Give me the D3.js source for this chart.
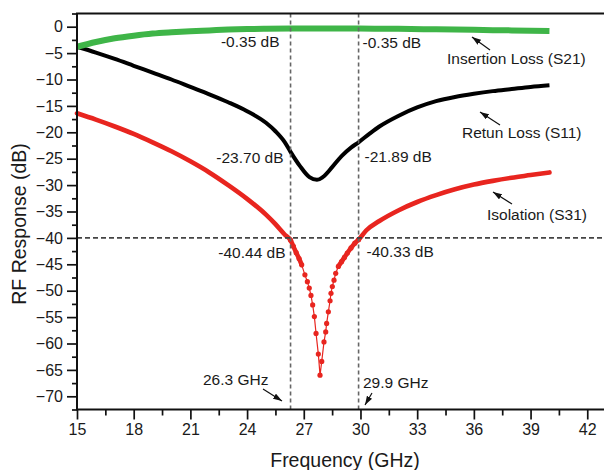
<!DOCTYPE html>
<html>
  <head>
    <meta charset="utf-8">
    <title>RF Response</title>
    <style>
      body { margin: 0; background: #fff; }
      text { font-family: "Liberation Sans", Arial, sans-serif; fill: #1a1a1a; }
    </style>
  </head>
  <body>
    <div id="chart"></div>
  </body>
  <script src="https://d3js.org/d3.v7.min.js"></script>
  <script>

    // tick labels
    let xTicks = [15, 18, 21, 24, 27, 30, 33, 36, 39, 42];
    let yTicks = [0, -5, -10, -15, -20, -25, -30, -35, -40, -45, -50, -55, -60, -65, -70];

    // Insertion loss (S21)
    let s21Freq = [15, 16, 17, 18, 19, 20, 21, 22, 23, 24, 25, 26.3, 28, 29.9, 32, 34, 36, 38, 40];
    let s21Db = [-3.8, -2.9, -2.2, -1.7, -1.3, -1.05, -0.85, -0.7, -0.55, -0.45, -0.4, -0.35, -0.33, -0.35, -0.4, -0.5, -0.6, -0.7, -0.8];

    // Return loss (S11)
    let s11Freq = [15, 16, 17, 18, 19, 20, 21, 22, 23, 24, 25, 25.5, 26, 26.3, 26.8, 27.3, 27.7, 28.0, 28.5, 29.0, 29.5, 29.9, 30.5, 31, 32, 33, 34, 35, 36, 37, 38, 39, 40];
    let s11Db = [-3.8, -4.9, -6.1, -7.4, -8.7, -10.0, -11.4, -12.8, -14.3, -16.0, -18.2, -19.8, -21.9, -23.7, -26.4, -28.5, -29.0, -28.5, -26.6, -24.5, -22.9, -21.89, -20.2, -18.9, -16.9, -15.3, -14.1, -13.3, -12.7, -12.2, -11.8, -11.4, -11.1];

    // Isolation (S31)
    let s31Freq = [15, 16, 17, 18, 19, 20, 21, 22, 23, 24, 25, 25.5, 26, 26.3, 26.45, 26.6, 26.75, 26.89, 27.06, 27.19, 27.29, 27.38, 27.47, 27.56, 27.65, 27.77, 27.86,
      27.95, 28.07, 28.16, 28.21, 28.30, 28.39, 28.44, 28.51, 28.60, 28.69, 28.83, 29.0, 29.15, 29.3, 29.5, 29.7, 29.9, 30.3, 31, 32, 33, 34, 35, 36, 37, 38, 39, 40];
    let s31Db = [-16.4, -17.6, -18.9, -20.3, -21.9, -23.6, -25.5, -27.6, -30.0, -32.6, -35.6, -37.4, -39.4, -40.44, -41.6, -42.8, -43.9, -45.1, -47.0, -48.3, -49.5, -50.9, -52.7, -54.9, -58.1, -62.0, -66.0,
      -63.4, -59.7, -57.8, -56.2, -54.0, -51.9, -50.5, -49.2, -48.0, -46.7, -45.4, -44.5, -43.7, -42.9, -41.9, -41.0, -40.33, -38.6, -36.8, -34.8, -33.2, -31.9, -30.8, -29.9, -29.2, -28.6, -28.1, -27.6];

    // marker lines and read-outs
    let markerFreqs = [26.3, 29.9];
    let s21At = [-0.35, -0.35];
    let s11At = [-23.70, -21.89];
    let s31At = [-40.44, -40.33];
    let isoLevel = -40;

    let W = 604, H = 470;
    let pLeft = 77, pTop = 13.5, pRight = 615.6, pBottom = 409.5;

    let xScale = d3.scaleLinear().domain([15, 43.5]).range([pLeft, pRight]);
    let yScale = d3.scaleLinear().domain([-72.5, 2.5]).range([pBottom, pTop]);

    let svg = d3.select("#chart").append("svg")
      .attr("width", W)
      .attr("height", H);

    svg.append("defs").append("marker")
      .attr("id", "arrow")
      .attr("markerUnits", "userSpaceOnUse")
      .attr("markerWidth", 9).attr("markerHeight", 6)
      .attr("refX", 9).attr("refY", 3)
      .attr("orient", "auto")
      .append("path")
      .attr("d", "M0,0 L9,3 L0,6 Z")
      .attr("fill", "#111");

    function pts(fs, ds) {
      return fs.map(function(f, i) { return [f, ds[i]]; });
    }

    let smooth = d3.line()
      .x(function(d) { return xScale(d[0]); })
      .y(function(d) { return yScale(d[1]); })
      .curve(d3.curveMonotoneX);
    let straight = d3.line()
      .x(function(d) { return xScale(d[0]); })
      .y(function(d) { return yScale(d[1]); });

    let plot = svg.append("g");

    // S31: thick on the flanks, dots + thin line in the notch
    let s31 = pts(s31Freq, s31Db);
    let notchLo = 26.89, notchHi = 28.83;
    plot.append("path")
      .attr("d", smooth(s31.filter(function(d) { return d[0] <= notchLo; })))
      .attr("fill", "none").attr("stroke", "#e8251f").attr("stroke-width", 4.6)
      .attr("stroke-linecap", "round");
    plot.append("path")
      .attr("d", smooth(s31.filter(function(d) { return d[0] >= notchHi; })))
      .attr("fill", "none").attr("stroke", "#e8251f").attr("stroke-width", 4.6)
      .attr("stroke-linecap", "round");
    plot.append("path")
      .attr("d", straight(s31.filter(function(d) { return d[0] >= notchLo && d[0] <= notchHi; })))
      .attr("fill", "none").attr("stroke", "#e8251f").attr("stroke-width", 1.2);
    plot.selectAll(".dot")
      .data(s31.filter(function(d) { return d[0] >= 26.3 && d[0] <= 29.9; }))
      .enter().append("circle")
      .attr("class", "dot")
      .attr("cx", function(d) { return xScale(d[0]); })
      .attr("cy", function(d) { return yScale(d[1]); })
      .attr("r", 2.6)
      .attr("fill", "#e8251f");

    plot.append("path")
      .attr("d", smooth(pts(s11Freq, s11Db)))
      .attr("fill", "none").attr("stroke", "#000").attr("stroke-width", 4)
      .attr("stroke-linejoin", "round");

    plot.append("path")
      .attr("d", smooth(pts(s21Freq, s21Db)))
      .attr("fill", "none").attr("stroke", "#3fb548").attr("stroke-width", 6);

    // dashed guide lines
    svg.selectAll(".vguide")
      .data(markerFreqs)
      .enter().append("line")
      .attr("class", "vguide")
      .attr("x1", function(d) { return xScale(d); })
      .attr("x2", function(d) { return xScale(d); })
      .attr("y1", pTop).attr("y2", pBottom)
      .attr("stroke", "#666").attr("stroke-width", 1.6)
      .attr("stroke-dasharray", "4,3");
    svg.append("line")
      .attr("x1", pLeft).attr("x2", pRight)
      .attr("y1", yScale(isoLevel)).attr("y2", yScale(isoLevel))
      .attr("stroke", "#444").attr("stroke-width", 1.8)
      .attr("stroke-dasharray", "5,3");

    // axes
    let xMinor = xTicks.map(function(t) { return t + 1.5; });
    let yMinor = yTicks.map(function(t) { return t + 2.5; }).concat([-72.5]);

    let gx = svg.append("g").attr("transform", "translate(0," + pBottom + ")")
      .call(d3.axisBottom(xScale).tickValues(xTicks).tickSize(10).tickPadding(4));
    let gxm = svg.append("g").attr("transform", "translate(0," + pBottom + ")")
      .call(d3.axisBottom(xScale).tickValues(xMinor).tickSize(6).tickFormat(""));
    let gy = svg.append("g").attr("transform", "translate(" + pLeft + ",0)")
      .call(d3.axisLeft(yScale).tickValues(yTicks).tickSize(10).tickPadding(4));
    let gym = svg.append("g").attr("transform", "translate(" + pLeft + ",0)")
      .call(d3.axisLeft(yScale).tickValues(yMinor).tickSize(5).tickFormat(""));

    [gx, gxm, gy, gym].forEach(function(g) {
      g.select(".domain").remove();
      g.selectAll(".tick line").attr("stroke", "#111").attr("stroke-width", 1.7);
      g.selectAll(".tick text")
        .style("font-family", "'Liberation Sans', Arial, sans-serif")
        .style("font-size", "16px").attr("fill", "#1a1a1a");
    });

    // frame
    svg.append("rect")
      .attr("x", pLeft).attr("y", pTop)
      .attr("width", pRight - pLeft).attr("height", pBottom - pTop)
      .attr("fill", "none").attr("stroke", "#111").attr("stroke-width", 2);

    // axis titles
    svg.append("text")
      .attr("x", 345).attr("y", 467)
      .attr("text-anchor", "middle")
      .style("font-size", "19.5px")
      .text("Frequency (GHz)");
    svg.append("text")
      .attr("transform", "translate(26,224) rotate(-90)")
      .attr("text-anchor", "middle")
      .style("font-size", "19.5px")
      .text("RF Response (dB)");

    // read-out labels
    let fmt = function(v) { return v.toFixed(2) + " dB"; };
    let xa = xScale(markerFreqs[0]), xb = xScale(markerFreqs[1]);
    function label(x, y, anchor, txt) {
      svg.append("text")
        .attr("x", x).attr("y", y)
        .attr("text-anchor", anchor)
        .style("font-size", "15.5px")
        .text(txt);
    }
    label(xa - 11, 47, "end", fmt(s21At[0]));
    label(xb + 4, 48, "start", fmt(s21At[1]));
    label(xa - 7, 163, "end", fmt(s11At[0]));
    label(xb + 6, 162, "start", fmt(s11At[1]));
    label(xa - 5, 258, "end", fmt(s31At[0]));
    label(xb + 8, 257, "start", fmt(s31At[1]));
    label(203, 385, "start", markerFreqs[0] + " GHz");
    label(363, 388, "start", markerFreqs[1] + " GHz");
    label(447, 64, "start", "Insertion Loss (S21)");
    label(462, 138, "start", "Retun Loss (S11)");
    label(487, 220, "start", "Isolation (S31)");

    // pointer arrows
    function arrow(x1, y1, x2, y2) {
      svg.append("line")
        .attr("x1", x1).attr("y1", y1).attr("x2", x2).attr("y2", y2)
        .attr("stroke", "#111").attr("stroke-width", 1.2)
        .attr("marker-end", "url(#arrow)");
    }
    arrow(490, 50, 472, 37);
    arrow(500, 125, 480, 112);
    arrow(512, 204, 493, 192);
    arrow(263, 389, 282, 401);
    arrow(372, 393, 365, 405);

  </script>
</html>
